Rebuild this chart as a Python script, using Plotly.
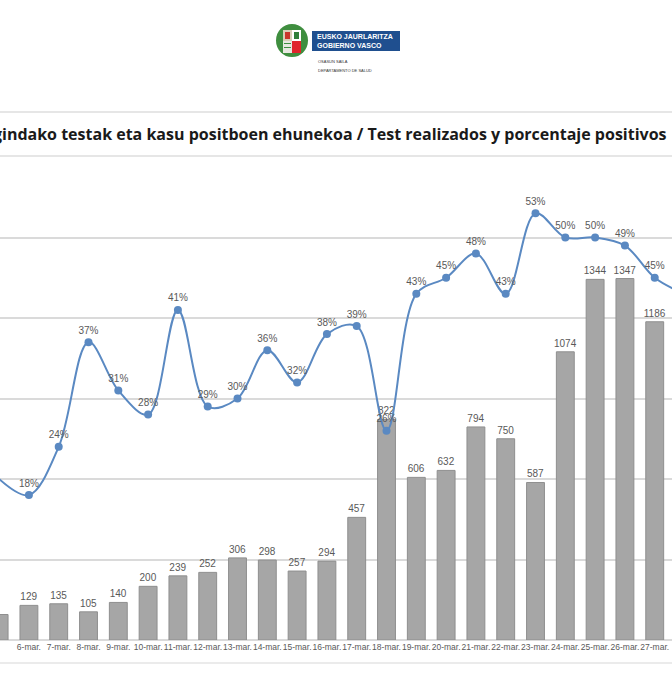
import plotly.graph_objects as go

dates = [
    "5-mar.", "6-mar.", "7-mar.", "8-mar.", "9-mar.", "10-mar.", "11-mar.", "12-mar.",
    "13-mar.", "14-mar.", "15-mar.", "16-mar.", "17-mar.", "18-mar.", "19-mar.", "20-mar.",
    "21-mar.", "22-mar.", "23-mar.", "24-mar.", "25-mar.", "26-mar.", "27-mar.", "28-mar.",
]
tests = [
    95, 129, 135, 105, 140, 200, 239, 252, 306, 298, 257, 294,
    457, 822, 606, 632, 794, 750, 587, 1074, 1344, 1347, 1186, None,
]
positive_pct = [
    20, 18, 24, 37, 31, 28, 41, 29, 30, 36, 32, 38,
    39, 26, 43, 45, 48, 43, 53, 50, 50, 49, 45, 43,
]

title_text = "Egindako testak eta kasu positboen ehunekoa / Test realizados y porcentaje positivos"

W, H = 672, 700
TOP, BASE = 157, 640


def px_x(x):
    return x / W


def px_y(y):
    return (BASE - y) / (BASE - TOP)


gray_text = "#595959"
line_blue = "#5A89C2"

fig = go.Figure()
fig.add_trace(
    go.Bar(
        x=dates,
        y=tests,
        width=0.6,
        marker=dict(color="#A6A6A6", line=dict(color="#8F8F8F", width=1)),
        text=[str(v) if v is not None else "" for v in tests],
        textposition="outside",
        constraintext="none",
        textfont=dict(size=10, color=gray_text, family="Liberation Sans"),
        cliponaxis=False,
    )
)
fig.add_trace(
    go.Scatter(
        x=dates,
        y=positive_pct,
        yaxis="y2",
        mode="lines+markers+text",
        line=dict(color=line_blue, width=2, shape="spline", smoothing=1.0),
        marker=dict(color=line_blue, size=8),
        text=[f"{v}%" for v in positive_pct],
        textposition="top center",
        textfont=dict(size=10, color=gray_text, family="Liberation Sans"),
        cliponaxis=False,
    )
)

shapes = [
    # title band
    dict(type="line", xref="paper", yref="paper", x0=0, x1=1, y0=px_y(112), y1=px_y(112),
         line=dict(color="#E6E6E6", width=2)),
    dict(type="line", xref="paper", yref="paper", x0=0, x1=1, y0=px_y(156), y1=px_y(156),
         line=dict(color="#E6E6E6", width=2)),
    # bottom band
    dict(type="line", xref="paper", yref="paper", x0=0, x1=1, y0=px_y(663), y1=px_y(663),
         line=dict(color="#EBEBEB", width=2)),
    # logo: wreath + shield
    dict(type="circle", xref="paper", yref="paper", x0=px_x(276), x1=px_x(308),
         y0=px_y(57), y1=px_y(24), fillcolor="#3F8E3F", line=dict(width=0)),
    dict(type="rect", xref="paper", yref="paper", x0=px_x(283), x1=px_x(292),
         y0=px_y(41), y1=px_y(30), fillcolor="#D8D0B8", line=dict(width=0)),
    dict(type="rect", xref="paper", yref="paper", x0=px_x(285), x1=px_x(290),
         y0=px_y(39), y1=px_y(32), fillcolor="#C9372C", line=dict(width=0)),
    dict(type="rect", xref="paper", yref="paper", x0=px_x(292), x1=px_x(301),
         y0=px_y(41), y1=px_y(30), fillcolor="#FFFFFF", line=dict(width=0)),
    dict(type="rect", xref="paper", yref="paper", x0=px_x(294), x1=px_x(299),
         y0=px_y(39), y1=px_y(32), fillcolor="#2F7F3A", line=dict(width=0)),
    dict(type="rect", xref="paper", yref="paper", x0=px_x(283), x1=px_x(292),
         y0=px_y(53), y1=px_y(41), fillcolor="#E8E8E0", line=dict(width=0)),
    dict(type="rect", xref="paper", yref="paper", x0=px_x(284), x1=px_x(291),
         y0=px_y(44), y1=px_y(43), fillcolor="#3F8E3F", line=dict(width=0)),
    dict(type="rect", xref="paper", yref="paper", x0=px_x(284), x1=px_x(291),
         y0=px_y(48), y1=px_y(47), fillcolor="#3F8E3F", line=dict(width=0)),
    dict(type="rect", xref="paper", yref="paper", x0=px_x(292), x1=px_x(301),
         y0=px_y(53), y1=px_y(41), fillcolor="#E0242B", line=dict(width=0)),
    # logo: blue band
    dict(type="rect", xref="paper", yref="paper", x0=px_x(312), x1=px_x(400),
         y0=px_y(51), y1=px_y(31), fillcolor="#1F4F8F", line=dict(width=0)),
]

annotations = [
    dict(xref="paper", yref="paper", x=px_x(669), y=px_y(134), xanchor="right", yanchor="middle",
         text=f"<b>{title_text}</b>", showarrow=False,
         font=dict(family="Open Sans", size=16, color="#1A1A1A")),
    dict(xref="paper", yref="paper", x=px_x(315), y=px_y(36.5), xanchor="left", yanchor="middle",
         text="<b>EUSKO JAURLARITZA</b>", showarrow=False,
         font=dict(family="Liberation Sans", size=7, color="#FFFFFF")),
    dict(xref="paper", yref="paper", x=px_x(315), y=px_y(45.5), xanchor="left", yanchor="middle",
         text="<b>GOBIERNO VASCO</b>", showarrow=False,
         font=dict(family="Liberation Sans", size=7, color="#FFFFFF")),
    dict(xref="paper", yref="paper", x=px_x(316), y=px_y(61), xanchor="left", yanchor="middle",
         text="OSASUN SAILA", showarrow=False,
         font=dict(family="Liberation Sans", size=4, color="#333333")),
    dict(xref="paper", yref="paper", x=px_x(316), y=px_y(70), xanchor="left", yanchor="middle",
         text="DEPARTAMENTO DE SALUD", showarrow=False,
         font=dict(family="Liberation Sans", size=4, color="#333333")),
]

fig.update_layout(
    width=W,
    height=H,
    margin=dict(l=0, r=0, t=TOP, b=H - BASE),
    paper_bgcolor="white",
    plot_bgcolor="white",
    showlegend=False,
    bargap=0.4,
    shapes=shapes,
    annotations=annotations,
    xaxis=dict(
        type="category",
        range=[0.03, 22.58],
        tickangle=0,
        tickfont=dict(size=8.5, color=gray_text, family="Liberation Sans"),
        showgrid=False,
        showline=False,
        ticks="",
    ),
    yaxis=dict(
        range=[0, 1800],
        dtick=300,
        showticklabels=False,
        showgrid=True,
        gridcolor="#DADADA",
        gridwidth=1.5,
        zeroline=True,
        zerolinecolor="#DADADA",
        zerolinewidth=1.5,
    ),
    yaxis2=dict(
        range=[0, 60],
        overlaying="y",
        side="right",
        showticklabels=False,
        showgrid=False,
        zeroline=False,
    ),
)

# page body has a default margin; drop it so the figure sits at the window corner
fig.write_html(
    "out.html",
    config={"displayModeBar": False},
    post_script="document.body.style.margin='0';document.body.style.overflow='hidden';",
)
